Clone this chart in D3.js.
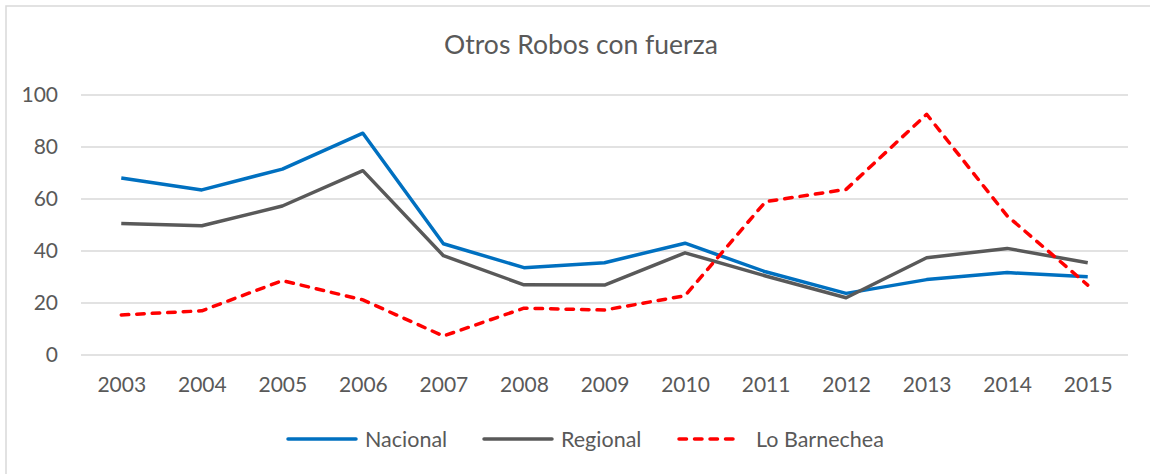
<!DOCTYPE html>
<html>
<head>
<meta charset="utf-8">
<script src="https://cdn.jsdelivr.net/npm/d3@7"></script>
<style>
  body { margin: 0; background: #fff; }
  text { font-family: Lato, "Open Sans", sans-serif; fill: #595959; }
</style>
</head>
<body>
<div class="chart"></div>
<script>
const years = ['2003','2004','2005','2006','2007','2008','2009','2010','2011','2012','2013','2014','2015'];
const nacional = [68.1, 63.5, 71.5, 85.3, 42.8, 33.6, 35.5, 43.0, 32.0, 23.7, 29.0, 31.7, 30.1];
const regional = [50.6, 49.7, 57.3, 70.9, 38.2, 27.0, 26.9, 39.3, 30.4, 22.0, 37.4, 41.0, 35.5];
const barnechea = [15.4, 17.0, 28.6, 21.2, 7.3, 18.0, 17.3, 22.8, 59.0, 63.7, 92.6, 53.5, 26.9];
const yTicks = [0, 20, 40, 60, 80, 100];
const seriesNames = ['Nacional', 'Regional', 'Lo Barnechea'];

const width = 1150;
const height = 474;
const margin = ({top: 95, right: 22, bottom: 119, left: 81});

const series = [
	{name: seriesNames[0], values: nacional, color: '#0070C0', dash: null},
	{name: seriesNames[1], values: regional, color: '#595959', dash: null},
	{name: seriesNames[2], values: barnechea, color: '#FF0000', dash: '7.5,8'}
];

const svg = d3.select('.chart').append('svg')
		.attr('width', width)
		.attr('height', height);

// outer frame
svg.append('rect')
	.attr('x', 6)
	.attr('y', 6)
	.attr('width', width + 50)
	.attr('height', height + 50)
	.attr('fill', 'none')
	.attr('stroke', '#D9D9D9')
	.attr('stroke-width', 1.5);

const xScale = d3.scalePoint()
		.domain(years)
		.range([margin.left, width - margin.right])
		.padding(0.5);

const yScale = d3.scaleLinear()
		.domain([0, 100])
		.range([height - margin.bottom, margin.top]);

// gridlines
svg.append('g')
	.selectAll('line')
	.data(yTicks)
	.enter()
	.append('line')
	.attr('x1', margin.left)
	.attr('x2', width - margin.right)
	.attr('y1', d => yScale(d))
	.attr('y2', d => yScale(d))
	.attr('stroke', '#D9D9D9')
	.attr('stroke-width', 1.5);

const yAxis = d3.axisLeft(yScale)
	.tickValues(yTicks)
	.tickSize(0)
	.tickPadding(23);

const xAxis = d3.axisBottom(xScale)
	.tickSize(0)
	.tickPadding(22);

svg.append('g')
	.attr('class', 'axis y-axis')
	.attr('transform', `translate(${margin.left}, 0)`)
	.call(yAxis)
	.call(g => g.select('.domain').remove())
	.selectAll('text')
	.attr('font-size', 21)
	.attr('fill', '#595959');

svg.append('g')
	.attr('class', 'axis x-axis')
	.attr('transform', `translate(0, ${height - margin.bottom})`)
	.call(xAxis)
	.call(g => g.select('.domain').remove())
	.selectAll('text')
	.attr('font-size', 21)
	.attr('fill', '#595959');

svg.selectAll('.axis text').style('font-family', 'Lato, "Open Sans", sans-serif');

const line = d3.line()
	.x((d, i) => xScale(years[i]))
	.y(d => yScale(d));

svg.selectAll('.series')
	.data(series)
	.enter()
	.append('path')
	.attr('class', 'series')
	.attr('d', d => line(d.values))
	.attr('fill', 'none')
	.attr('stroke', d => d.color)
	.attr('stroke-width', 3.5)
	.attr('stroke-linejoin', 'round')
	.attr('stroke-linecap', d => d.dash ? 'round' : 'butt')
	.attr('stroke-dasharray', d => d.dash);

// title
svg.append('text')
	.attr('x', 581)
	.attr('y', 54)
	.attr('text-anchor', 'middle')
	.attr('font-size', 26.5)
	.text('Otros Robos con fuerza');

// legend
const legendX = [288, 484, 679];
const legend = svg.append('g')
	.selectAll('g')
	.data(series)
	.enter()
	.append('g')
	.attr('transform', (d, i) => `translate(${legendX[i]}, 439)`);

legend.append('line')
	.attr('x1', 0)
	.attr('x2', d => d.dash ? 62 : 68)
	.attr('stroke', d => d.color)
	.attr('stroke-width', 3.5)
	.attr('stroke-linecap', 'round')
	.attr('stroke-dasharray', d => d.dash);

legend.append('text')
	.attr('x', 77)
	.attr('y', 7.5)
	.attr('font-size', 21.5)
	.text(d => d.name);
</script>
</body>
</html>
